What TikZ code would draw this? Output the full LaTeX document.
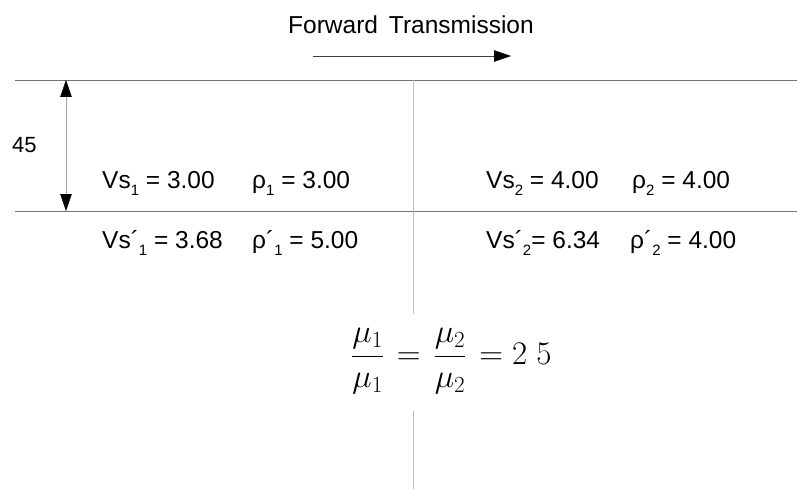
\RequirePackage{fix-cm}
\documentclass[tikz,border=0pt]{standalone}
\usepackage{amsmath}
\usepackage[no-math]{fontspec}
\setmainfont{Liberation Sans}
\usetikzlibrary{arrows.meta, positioning}
\definecolor{LayerLine}{RGB}{115,115,115}
\definecolor{CutLine}{RGB}{190,190,190}
\newcommand{\lowsub}[1]{\raisebox{-7pt}{\fontsize{15}{15}\selectfont #1}}

\begin{document}
\begin{tikzpicture}[x=1pt, y=-1pt, font=\fontsize{24.5}{28}\selectfont,
	val/.style={anchor=base west, inner sep=0pt},
	tip/.style={-{Triangle[length=17pt, width=11.5pt, color=black]}}]
	\useasboundingbox (0,0) rectangle (797,489);

	% capas
	\coordinate (topL) at (15,80);
	\coordinate (topR) at (797,80);
	\coordinate (midL) at (15,211);
	\coordinate (midR) at (797,211);
	\draw[LayerLine] (topL) -- (topR);
	\draw[LayerLine] (midL) -- (midR);

	% interfaz vertical
	\coordinate (cutA) at (413,80);
	\coordinate (cutB) at (413,314);
	\coordinate (cutC) at (413,411);
	\coordinate (cutD) at (413,489);
	\draw[CutLine] (cutA) -- (cutB);
	\draw[CutLine] (cutC) -- (cutD);

	% espesor
	\coordinate (thkT) at (66,80);
	\coordinate (thkB) at (66,211);
	\draw[CutLine!85!black, {Triangle[length=17pt, width=11.5pt, color=black]}-{Triangle[length=17pt, width=11.5pt, color=black]}]
		(thkT) -- (thkB);
	\node[val, font=\fontsize{22}{25}\selectfont] (thk) at (12,153) {45};

	% sentido de transmision
	\node[val] (fwd) at (288,34) {Forward\, Transmission};
	\coordinate (fwdA) at (313,56);
	\coordinate (fwdB) at (511,56);
	\draw[black!75, tip] (fwdA) -- (fwdB);

	% medio 1
	\node[val] (vsa) at (102,189) {Vs\lowsub{1} = 3.00};
	\node[val] (rhoa) at (252,189) {ρ\lowsub{1} = 3.00};
	\node[val] (vsb) at (102,248) {Vs´\lowsub{1} = 3.68};
	\node[val] (rhob) at (252,248) {ρ´\lowsub{1} = 5.00};

	% medio 2
	\node[val] (vsc) at (486,189) {Vs\lowsub{2} = 4.00};
	\node[val] (rhoc) at (632,189) {ρ\lowsub{2} = 4.00};
	\node[val] (vsd) at (486,248) {Vs´\lowsub{2}= 6.34};
	\node[val] (rhod) at (630,248) {ρ´\lowsub{2} = 4.00};

	% cociente
	\node[inner sep=0pt, anchor=west, font=\fontsize{33}{38}\selectfont] (ratio) at (351,361)
		{$\dfrac{\mu_1}{\mu_1}\mkern2mu = \mkern2mu\dfrac{\mu_2}{\mu_2}\mkern2mu = 2\ 5$};
\end{tikzpicture}
\end{document}
